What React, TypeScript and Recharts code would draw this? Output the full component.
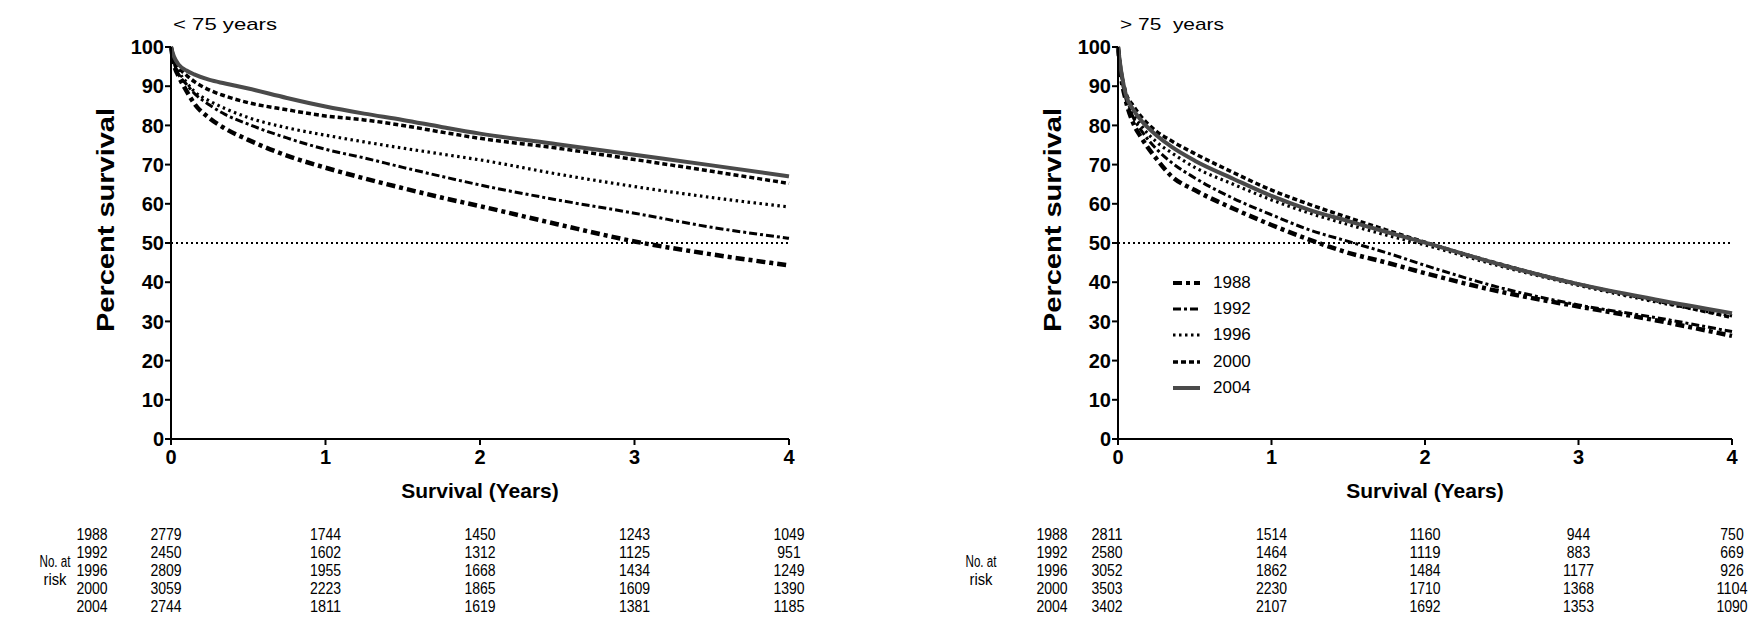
import React from 'react';
import { LineChart, Line, XAxis, YAxis, ReferenceLine, Legend } from 'recharts';

const FONT = '"Liberation Sans", Arial, Helvetica, sans-serif';

const TIMES = [0, 0.02, 0.05, 0.1, 0.15, 0.25, 0.35, 0.5, 0.75, 1, 1.25, 1.5, 1.75, 2, 2.5, 3, 3.5, 4];
const YEAR_TICKS = [0, 1, 2, 3, 4];
const PCT_TICKS = [0, 10, 20, 30, 40, 50, 60, 70, 80, 90, 100];
const COHORTS = ['1988', '1992', '1996', '2000', '2004'];

// < 75 years
const YOUNG_1988 = [100, 95.5, 92.5, 88.8, 85.6, 81.8, 79.2, 76.3, 72.3, 69.2, 66.5, 64, 61.6, 59.4, 54.8, 50.4, 47.1, 44.3];
const YOUNG_1992 = [100, 96, 93, 90.5, 88.2, 85.2, 82.8, 80.3, 76.8, 73.9, 71.7, 69.3, 67, 64.8, 61, 57.6, 54, 51.2];
const YOUNG_1996 = [100, 96.5, 93.8, 91, 88.7, 86.2, 84.3, 82, 79.4, 77.5, 75.8, 74.2, 72.7, 71.2, 67.6, 64.4, 61.6, 59.2];
const YOUNG_2000 = [100, 97, 94.8, 92.8, 91.2, 89, 87.5, 85.8, 84, 82.4, 81.4, 80, 78.3, 76.7, 74.2, 71.3, 68.3, 65.2];
const YOUNG_2004 = [100, 97.5, 95.5, 94, 93, 91.6, 90.7, 89.4, 87, 84.8, 83, 81.4, 79.6, 77.9, 75.2, 72.5, 69.8, 67];

// > 75 years
const OLD_1988 = [100, 92.5, 86.5, 80.5, 77, 71.5, 67, 63.5, 58.8, 54.6, 50.8, 47.5, 45, 42.3, 37.5, 33.8, 30.3, 26.3];
const OLD_1992 = [100, 93, 87, 82, 78.8, 74, 70.5, 66.6, 61.4, 57.2, 53.3, 50.4, 47.5, 44.3, 38.5, 34.2, 31, 27.4];
const OLD_1996 = [100, 93.5, 87.5, 83, 80, 75.8, 73, 69.3, 65, 61, 57.6, 54.7, 52, 49.5, 44, 39.2, 35, 31.4];
const OLD_2000 = [100, 94, 88.5, 85, 82.3, 78.5, 76, 72.8, 68, 63.5, 59.8, 56.5, 53.3, 50.2, 44.5, 39.5, 35.3, 31];
const OLD_2004 = [100, 94, 88, 84, 81.3, 77.5, 74.5, 71, 66.4, 62, 58.4, 55.6, 52.8, 50.1, 44.4, 39.5, 35.6, 32.1];

// Numbers at risk at years 0..4
const YOUNG_RISK_1988 = [2779, 1744, 1450, 1243, 1049];
const YOUNG_RISK_1992 = [2450, 1602, 1312, 1125, 951];
const YOUNG_RISK_1996 = [2809, 1955, 1668, 1434, 1249];
const YOUNG_RISK_2000 = [3059, 2223, 1865, 1609, 1390];
const YOUNG_RISK_2004 = [2744, 1811, 1619, 1381, 1185];

const OLD_RISK_1988 = [2811, 1514, 1160, 944, 750];
const OLD_RISK_1992 = [2580, 1464, 1119, 883, 669];
const OLD_RISK_1996 = [3052, 1862, 1484, 1177, 926];
const OLD_RISK_2000 = [3503, 2230, 1710, 1368, 1104];
const OLD_RISK_2004 = [3402, 2107, 1692, 1353, 1090];

const STYLES: Record<string, { stroke: string; width: number; dash?: string }> = {
  '1988': { stroke: '#000', width: 4.5, dash: '9 4 4 4' },
  '1992': { stroke: '#000', width: 3, dash: '8 3 3 3' },
  '1996': { stroke: '#000', width: 3.2, dash: '2.5 3.5' },
  '2000': { stroke: '#000', width: 3.5, dash: '5 3' },
  '2004': { stroke: '#4a4a4a', width: 4 },
};

const ROW0 = 101; // first risk row baseline below axis line
const ROW_STEP = 18;
const DIGIT_W = 7.8;

function RiskText({ x, y, value }: { x: number; y: number; value: string | number }) {
  const s = String(value);
  return (
    <text x={x} y={y} textAnchor="middle" fontFamily={FONT} fontSize={17} fill="#000" textLength={s.length * DIGIT_W} lengthAdjust="spacingAndGlyphs">
      {s}
    </text>
  );
}

function makeXTick(risk: number[][], col0Dx: number) {
  return (props: any) => {
    const { x, y, payload } = props;
    const idx = YEAR_TICKS.indexOf(payload.value);
    const ax = y - 10;
    return (
      <g>
        <text x={x} y={y + 14.5} textAnchor="middle" fontFamily={FONT} fontWeight="bold" fontSize={20} fill="#000">
          {payload.value}
        </text>
        {risk.map((row, r) => (
          <RiskText key={r} x={x + (idx === 0 ? col0Dx : 0)} y={ax + ROW0 + r * ROW_STEP} value={row[idx]} />
        ))}
      </g>
    );
  };
}

function makeXLabel(yearDx: number, noAtDx: number) {
  return (props: any) => {
    const vb = props.viewBox || {};
    const x0 = vb.x ?? 0;
    const y0 = vb.y ?? 439;
    const w = vb.width ?? 600;
    return (
      <g>
        <text x={x0 + w / 2} y={y0 + 59} textAnchor="middle" fontFamily={FONT} fontWeight="bold" fontSize={21} fill="#000">
          Survival (Years)
        </text>
        {COHORTS.map((c, r) => (
          <RiskText key={c} x={x0 + yearDx} y={y0 + ROW0 + r * ROW_STEP} value={c} />
        ))}
        <text x={x0 + noAtDx} y={y0 + ROW0 + 1.5 * ROW_STEP} textAnchor="middle" fontFamily={FONT} fontSize={16} fill="#000" textLength={31} lengthAdjust="spacingAndGlyphs">
          No. at
        </text>
        <text x={x0 + noAtDx} y={y0 + ROW0 + 2.5 * ROW_STEP} textAnchor="middle" fontFamily={FONT} fontSize={16} fill="#000" textLength={23} lengthAdjust="spacingAndGlyphs">
          risk
        </text>
      </g>
    );
  };
}

function makeYLabel(title: string) {
  return (props: any) => {
    const vb = props.viewBox || {};
    const right = (vb.x ?? 0) + (vb.width ?? 60);
    const top = vb.y ?? 47;
    const cy = top + (vb.height ?? 392) / 2;
    return (
      <g>
        <text
          transform={`translate(${right - 57},${cy - 23}) rotate(-90)`}
          textAnchor="middle"
          fontFamily={FONT}
          fontWeight="bold"
          fontSize={23}
          fill="#000"
          textLength={224}
          lengthAdjust="spacingAndGlyphs"
        >
          Percent survival
        </text>
        <text x={right + 2} y={top - 17} fontFamily={FONT} fontSize={17} fill="#000" textLength={104} lengthAdjust="spacingAndGlyphs" style={{ whiteSpace: 'pre' }}>
          {title}
        </text>
      </g>
    );
  };
}

function renderLegend() {
  return (
    <div style={{ fontFamily: FONT, fontSize: 17, color: '#000' }}>
      {COHORTS.map((c) => {
        const s = STYLES[c];
        return (
          <div key={c} style={{ display: 'flex', alignItems: 'center', height: 26.2 }}>
            <svg width={30} height={12} style={{ display: 'block' }}>
              <line x1={1} y1={6} x2={28} y2={6} stroke={s.stroke} strokeWidth={Math.min(s.width, 4)} strokeDasharray={s.dash} />
            </svg>
            <span style={{ marginLeft: 11 }}>{c}</span>
          </div>
        );
      })}
    </div>
  );
}

interface PanelProps {
  title: string;
  curves: number[][];
  risk: number[][];
  left: number;
  width: number;
  marginLeft: number;
  marginRight: number;
  col0Dx: number;
  yearDx: number;
  noAtDx: number;
  legend?: boolean;
}

function Panel({ title, curves, risk, left, width, marginLeft, marginRight, col0Dx, yearDx, noAtDx, legend }: PanelProps) {
  const data = TIMES.map((t, i) => {
    const row: Record<string, number> = { t };
    COHORTS.forEach((c, k) => {
      row['y' + c] = curves[k][i];
    });
    return row;
  });
  return (
    <div style={{ position: 'absolute', left, top: 0 }}>
      <LineChart width={width} height={629} data={data} margin={{ top: 47, right: marginRight, bottom: 0, left: marginLeft }}>
        <XAxis
          dataKey="t"
          type="number"
          domain={[0, 4]}
          ticks={YEAR_TICKS}
          interval={0}
          height={190}
          axisLine={{ stroke: '#000', strokeWidth: 2 }}
          tickLine={{ stroke: '#000', strokeWidth: 2 }}
          tickSize={6}
          tickMargin={4}
          tick={makeXTick(risk, col0Dx)}
          label={makeXLabel(yearDx, noAtDx)}
        />
        <YAxis
          type="number"
          domain={[0, 100]}
          ticks={PCT_TICKS}
          interval={0}
          width={60}
          axisLine={{ stroke: '#000', strokeWidth: 2 }}
          tickLine={{ stroke: '#000', strokeWidth: 2 }}
          tickSize={6}
          tickMargin={1}
          tick={{ fontFamily: FONT, fontWeight: 'bold', fontSize: 20, fill: '#000' }}
          label={makeYLabel(title)}
        />
        <ReferenceLine y={50} stroke="#000" strokeWidth={2} strokeDasharray="2 3" />
        {COHORTS.map((c) => (
          <Line
            key={c}
            dataKey={'y' + c}
            name={c}
            type="monotone"
            stroke={STYLES[c].stroke}
            strokeWidth={STYLES[c].width}
            strokeDasharray={STYLES[c].dash}
            dot={false}
            activeDot={false}
            isAnimationActive={false}
          />
        ))}
        {legend && (
          <Legend
            layout="vertical"
            align="center"
            verticalAlign="middle"
            content={renderLegend}
            wrapperStyle={{ left: 1172 - 880, top: 270, width: 120, height: 135 }}
          />
        )}
      </LineChart>
    </div>
  );
}

export default function App() {
  return (
    <div style={{ position: 'absolute', left: 0, top: 0, width: 1753, height: 629, background: '#fff' }}>
      <Panel
        title="< 75 years"
        curves={[YOUNG_1988, YOUNG_1992, YOUNG_1996, YOUNG_2000, YOUNG_2004]}
        risk={[YOUNG_RISK_1988, YOUNG_RISK_1992, YOUNG_RISK_1996, YOUNG_RISK_2000, YOUNG_RISK_2004]}
        left={0}
        width={880}
        marginLeft={111}
        marginRight={91}
        col0Dx={-5}
        yearDx={-79}
        noAtDx={-116}
      />
      <Panel
        title="> 75  years"
        curves={[OLD_1988, OLD_1992, OLD_1996, OLD_2000, OLD_2004]}
        risk={[OLD_RISK_1988, OLD_RISK_1992, OLD_RISK_1996, OLD_RISK_2000, OLD_RISK_2004]}
        left={880}
        width={873}
        marginLeft={178}
        marginRight={21}
        col0Dx={-11}
        yearDx={-66}
        noAtDx={-137}
        legend
      />
    </div>
  );
}
